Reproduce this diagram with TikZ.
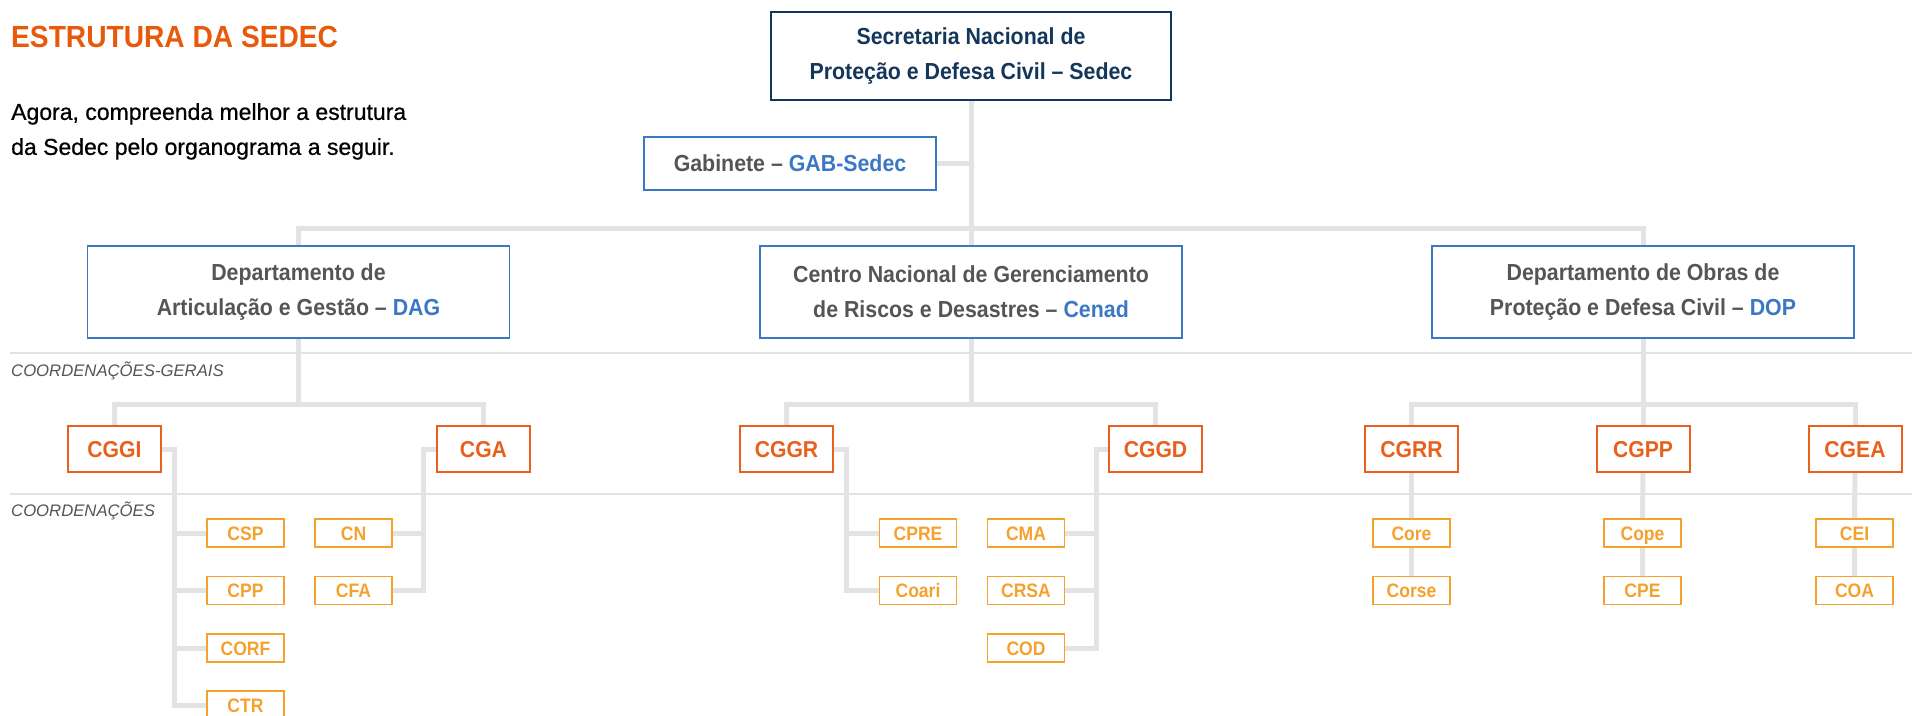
\documentclass[tikz,border=0pt]{standalone}
\usepackage{fontspec}
\setmainfont{Liberation Sans}
\newfontfamily\boxfont[FakeStretch=0.92]{Liberation Sans}
\newfontfamily\mediumfont[FakeBold=0.6]{Liberation Sans}
\newfontfamily\smallboxfont[FakeStretch=0.9]{Liberation Sans}
\usetikzlibrary{backgrounds}

\definecolor{sedecnavy}{HTML}{14365A}
\definecolor{deptblue}{HTML}{3B78C4}
\definecolor{cgorange}{HTML}{E8601C}
\definecolor{corange}{HTML}{F5A12E}
\definecolor{titleorange}{HTML}{E8590C}
\definecolor{textgray}{HTML}{555555}
\definecolor{wiregray}{HTML}{E3E3E3}

\tikzset{
  topbox/.style={draw=sedecnavy, line width=2pt, minimum width=400pt, minimum height=88pt, inner sep=0pt,
    align=center, text=sedecnavy, font=\boxfont\bfseries\fontsize{23.2}{35}\selectfont},
  deptbox/.style={draw=deptblue, line width=1.8pt, minimum width=422pt, minimum height=92pt, inner sep=0pt,
    align=center, text=textgray, font=\boxfont\bfseries\fontsize{23.2}{35}\selectfont},
  gabbox/.style={deptbox, minimum width=292pt, minimum height=53pt},
  cgbox/.style={draw=cgorange, line width=2pt, minimum width=93pt, minimum height=46pt, inner sep=0pt,
    text height=16.5pt, text depth=0pt, text=cgorange, font=\boxfont\bfseries\fontsize{23}{23}\selectfont},
  cbox/.style={draw=corange, line width=1.5pt, minimum width=77pt, minimum height=28pt, inner sep=0pt,
    text height=14.3pt, text depth=0pt, text=corange, font=\smallboxfont\bfseries\fontsize{19.5}{19.5}\selectfont},
  wire/.style={draw=wiregray, line width=5pt},
  sepline/.style={draw=wiregray, line width=1.3pt},
  levelname/.style={anchor=base west, inner sep=0pt, text=textgray, font=\itshape\fontsize{16.7}{16.7}\selectfont}
}

\newcommand{\acc}[1]{\textcolor{deptblue}{#1}}

\begin{document}
\begin{tikzpicture}[x=1pt, y=-1pt]
  \useasboundingbox (0,0) rectangle (1912,715);

  \node[anchor=base west, inner sep=0pt, text=titleorange, font=\boxfont\bfseries\fontsize{30.6}{30.6}\selectfont] (title) at (11,47) {ESTRUTURA DA SEDEC};
  \node[anchor=north west, inner sep=0pt, align=left, font=\mediumfont\fontsize{23}{35}\selectfont] (intro) at (11,103) {Agora, compreenda melhor a estrutura\\da Sedec pelo organograma a seguir.};

  \node[levelname] (cglabel) at (11,376) {COORDENAÇÕES-GERAIS};
  \node[levelname] (clabel) at (11,516) {COORDENAÇÕES};

  \node[topbox] (sedec) at (971,56) {Secretaria Nacional de\\Proteção e Defesa Civil – Sedec};
  \node[gabbox] (gab) at (790,163.5) {Gabinete – \acc{GAB-Sedec}};

  \node[deptbox] (dag) at (298.5,292) {Departamento de\\Articulação e Gestão – \acc{DAG}};
  \node[deptbox] (cenad) at (971,292) {Centro Nacional de Gerenciamento\\de Riscos e Desastres – \acc{Cenad}};
  \node[deptbox] (dop) at (1643,292) {Departamento de Obras de\\Proteção e Defesa Civil – \acc{DOP}};

  \node[cgbox] (cggi) at (114.5,449) {CGGI};
  \node[cgbox] (cga) at (483.5,449) {CGA};
  \node[cgbox] (cggr) at (786.5,449) {CGGR};
  \node[cgbox] (cggd) at (1155.5,449) {CGGD};
  \node[cgbox] (cgrr) at (1411.5,449) {CGRR};
  \node[cgbox] (cgpp) at (1643,449) {CGPP};
  \node[cgbox] (cgea) at (1855,449) {CGEA};

  \foreach \n/\t/\x/\y in {csp/CSP/245.5/533, cpp/CPP/245.5/590.5, corf/CORF/245.5/648, ctr/CTR/245.5/705,
      cn/CN/353.5/533, cfa/CFA/353.5/590.5,
      cpre/CPRE/918/533, coari/Coari/918/590.5,
      cma/CMA/1026/533, crsa/CRSA/1026/590.5, cod/COD/1026/648,
      core/Core/1411.5/533, corse/Corse/1411.5/590.5,
      cope/Cope/1642.5/533, cpe/CPE/1642.5/590.5,
      cei/CEI/1854.5/533, coa/COA/1854.5/590.5}
    \node[cbox] (\n) at (\x,\y) {\t};

  \coordinate (topbus) at (971,228);
  \coordinate (dagbus) at (298.5,404);
  \coordinate (cenadbus) at (971,404);
  \coordinate (dopbus) at (1643,404);
  \coordinate (ggispine) at (174,705);
  \coordinate (gaspine) at (423,590.5);
  \coordinate (ggrspine) at (846,590.5);
  \coordinate (ggdspine) at (1096,648);

  \begin{scope}[on background layer]
    \draw[sepline] (10,353) -- (1912,353);
    \draw[sepline] (10,494) -- (1912,494);

    \draw[wire] (sedec.south) -- (cenad.north);
    \draw[wire] (gab.east) -- (gab.east -| sedec.south);
    \draw[wire] (dag.north) |- (topbus) -| (dop.north);

    \draw[wire] (dag.south) -- (dagbus);
    \draw[wire] (cggi.north) |- (dagbus) -| (cga.north);
    \draw[wire] (cenad.south) -- (cenadbus);
    \draw[wire] (cggr.north) |- (cenadbus) -| (cggd.north);
    \draw[wire] (dop.south) -- (cgpp.north);
    \draw[wire] (cgrr.north) |- (dopbus) -| (cgea.north);

    \draw[wire] (cggi.east) -| (ggispine) -- (ctr.west);
    \foreach \n in {csp,cpp,corf}
      \draw[wire] (\n.west) -- (\n.west -| ggispine);
    \draw[wire] (cga.west) -| (gaspine) -- (cfa.east);
    \draw[wire] (cn.east) -- (cn.east -| gaspine);
    \draw[wire] (cggr.east) -| (ggrspine) -- (coari.west);
    \draw[wire] (cpre.west) -- (cpre.west -| ggrspine);
    \draw[wire] (cggd.west) -| (ggdspine) -- (cod.east);
    \foreach \n in {cma,crsa}
      \draw[wire] (\n.east) -- (\n.east -| ggdspine);

    \draw[wire] (cgrr.south) -- (core.north) (core.south) -- (corse.north);
    \draw[wire] (cgpp.south) -- (cope.north) (cope.south) -- (cpe.north);
    \draw[wire] (cgea.south) -- (cei.north) (cei.south) -- (coa.north);
  \end{scope}
\end{tikzpicture}
\end{document}
